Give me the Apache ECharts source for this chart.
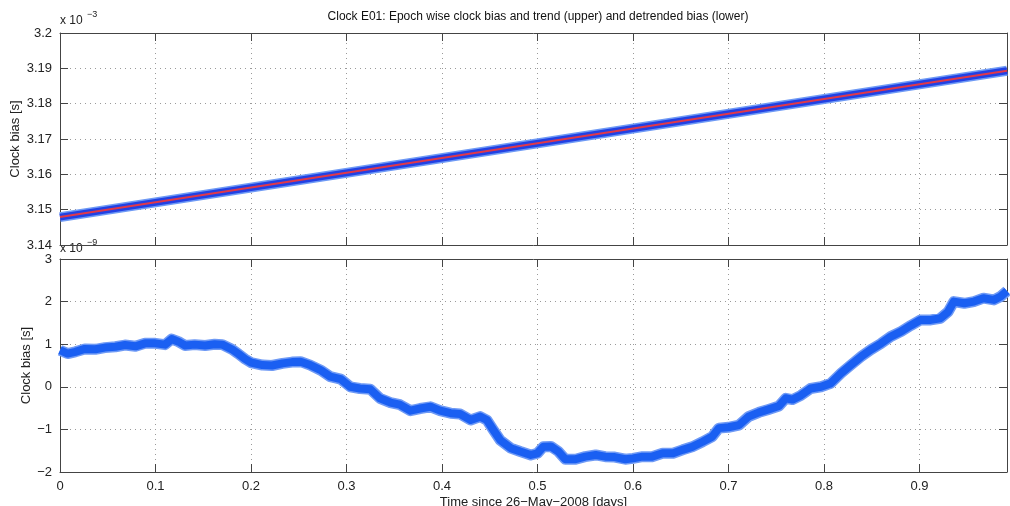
<!DOCTYPE html>
<html>
<head>
<meta charset="utf-8">
<script src="https://cdn.jsdelivr.net/npm/echarts@6/dist/echarts.min.js"></script>
<style>
html, body { margin: 0; padding: 0; background: #fff; }
#clock-chart { width: 1010px; height: 506px; }
</style>
</head>
<body>
<div id="clock-chart"></div>
<script>
// upper panel: trend end points (units of 1e-3 s)
var trendTime = [0, 0.9917];
var trendBias = [3.1479, 3.1893];

// lower panel: detrended bias (units of 1e-9 s)
var detTime = [0.000, 0.008, 0.016, 0.026, 0.037, 0.047, 0.058, 0.068, 0.079, 0.089,
  0.100, 0.110, 0.117, 0.124, 0.131, 0.141, 0.152, 0.162, 0.170, 0.180,
  0.187, 0.194, 0.200, 0.212, 0.222, 0.233, 0.243, 0.252, 0.262, 0.273,
  0.283, 0.294, 0.304, 0.314, 0.325, 0.335, 0.346, 0.356, 0.367, 0.377,
  0.388, 0.398, 0.409, 0.419, 0.430, 0.440, 0.447, 0.454, 0.461, 0.472,
  0.482, 0.493, 0.500, 0.506, 0.514, 0.522, 0.529, 0.540, 0.550, 0.561,
  0.571, 0.581, 0.592, 0.600, 0.610, 0.620, 0.631, 0.642, 0.652, 0.662,
  0.673, 0.683, 0.690, 0.700, 0.711, 0.721, 0.732, 0.742, 0.753, 0.760,
  0.767, 0.776, 0.786, 0.797, 0.807, 0.818, 0.828, 0.839, 0.849, 0.860,
  0.870, 0.881, 0.891, 0.901, 0.912, 0.922, 0.930, 0.936, 0.947, 0.957,
  0.967, 0.978, 0.985, 0.9917];
var detBias = [0.86, 0.78, 0.82, 0.89, 0.88, 0.92, 0.94, 0.98, 0.95, 1.02,
  1.02, 0.99, 1.12, 1.06, 0.97, 0.99, 0.97, 1.00, 0.99, 0.88,
  0.77, 0.65, 0.57, 0.51, 0.50, 0.55, 0.58, 0.59, 0.51, 0.39,
  0.24, 0.18, 0.00, -0.04, -0.06, -0.27, -0.37, -0.42, -0.56, -0.51,
  -0.47, -0.56, -0.62, -0.64, -0.78, -0.70, -0.78, -1.02, -1.25, -1.44,
  -1.52, -1.60, -1.56, -1.41, -1.40, -1.52, -1.70, -1.70, -1.64, -1.60,
  -1.64, -1.65, -1.70, -1.68, -1.64, -1.64, -1.56, -1.56, -1.48, -1.41,
  -1.29, -1.17, -0.97, -0.95, -0.90, -0.70, -0.60, -0.53, -0.45, -0.27,
  -0.30, -0.20, -0.04, 0.00, 0.08, 0.32, 0.51, 0.71, 0.87, 1.02,
  1.18, 1.30, 1.44, 1.57, 1.57, 1.61, 1.76, 2.00, 1.96, 2.00,
  2.08, 2.04, 2.12, 2.25];

var FONT = 'Liberation Sans';
var frameColor = '#444';

function pairs(xs, ys) {
  var out = [];
  for (var i = 0; i < xs.length; ++i) out.push([xs[i], ys[i]]);
  return out;
}

function xAx(grid, pos, labels) {
  return {
    type: 'value', gridIndex: grid, position: pos,
    min: 0, max: 0.9917, interval: 0.1,
    axisLine: { show: true, onZero: false, lineStyle: { color: frameColor, width: 1 } },
    axisTick: { show: true, inside: true, length: 8, lineStyle: { color: frameColor } },
    axisLabel: {
      show: labels, showMaxLabel: false, margin: 8, color: '#222',
      fontFamily: FONT, fontSize: 13
    },
    splitLine: {
      show: pos === 'bottom',
      lineStyle: { color: '#9a9a9a', type: [1, 4], width: 1 }
    }
  };
}

function yAx(grid, pos, mn, mx, step, labels) {
  return {
    type: 'value', gridIndex: grid, position: pos,
    min: mn, max: mx, interval: step,
    axisLine: { show: true, onZero: false, lineStyle: { color: frameColor, width: 1 } },
    axisTick: { show: true, inside: true, length: 8, lineStyle: { color: frameColor } },
    axisLabel: {
      show: labels, margin: 8, color: '#222', fontFamily: FONT, fontSize: 13,
      formatter: function (v) { return String(v).replace('-', '\u2212'); }
    },
    splitLine: {
      show: pos === 'left',
      lineStyle: { color: '#9a9a9a', type: [1, 4], width: 1 }
    }
  };
}

function setName(ax, text, gap) {
  ax.name = text;
  ax.nameLocation = 'middle';
  ax.nameGap = gap;
  ax.nameMoveOverlap = false;
  ax.nameTextStyle = { fontFamily: FONT, fontSize: 13, color: '#222' };
}

var chart = echarts.init(document.getElementById('clock-chart'));

var xAxes = [xAx(0, 'bottom', false), xAx(0, 'top', false), xAx(1, 'bottom', true), xAx(1, 'top', false)];
setName(xAxes[2], 'Time since 26\u2212May\u22122008 [days]', 24);

var yAxes = [yAx(0, 'left', 3.14, 3.2, 0.01, true), yAx(0, 'right', 3.14, 3.2, 0.01, false),
  yAx(1, 'left', -2, 3, 1, true), yAx(1, 'right', -2, 3, 1, false)];
setName(yAxes[0], 'Clock bias [s]', 38);
setName(yAxes[2], 'Clock bias [s]', 27);

var option = {
  backgroundColor: '#ffffff',
  animation: false,
  title: {
    text: 'Clock E01: Epoch wise clock bias and trend (upper) and detrended bias (lower)',
    left: 533, top: 6, textAlign: 'center',
    textStyle: { fontFamily: FONT, fontSize: 12, fontWeight: 'normal', color: '#111' }
  },
  grid: [
    { left: 60, right: 3, top: 33, height: 212, outerBoundsMode: 'none' },
    { left: 60, right: 3, top: 259, bottom: 34, outerBoundsMode: 'none' }
  ],
  xAxis: xAxes,
  yAxis: yAxes,
  graphic: [
    { type: 'text', left: 60, top: 15, style: { text: 'x 10', fontFamily: FONT, fontSize: 12, fill: '#222' } },
    { type: 'text', left: 87, top: 10, style: { text: '\u22123', fontFamily: FONT, fontSize: 9, fill: '#222' } },
    { type: 'text', left: 60, top: 243, style: { text: 'x 10', fontFamily: FONT, fontSize: 12, fill: '#222' } },
    { type: 'text', left: 87, top: 238, style: { text: '\u22129', fontFamily: FONT, fontSize: 9, fill: '#222' } }
  ],
  series: [
    {
      name: 'bias halo', type: 'line', xAxisIndex: 0, yAxisIndex: 0,
      data: pairs(trendTime, trendBias), showSymbol: false, silent: true,
      lineStyle: { color: '#6f9af5', width: 10 }
    },
    {
      name: 'bias', type: 'line', xAxisIndex: 0, yAxisIndex: 0,
      data: pairs(trendTime, trendBias), showSymbol: false, silent: true,
      lineStyle: { color: '#2141e4', width: 7 }
    },
    {
      name: 'trend', type: 'line', xAxisIndex: 0, yAxisIndex: 0,
      data: pairs(trendTime, trendBias), showSymbol: false, silent: true,
      lineStyle: { color: '#e0384a', width: 2 }
    },
    {
      name: 'detrended halo', type: 'line', xAxisIndex: 2, yAxisIndex: 2,
      data: pairs(detTime, detBias), showSymbol: false, silent: true,
      lineStyle: { color: '#6f9af5', width: 11, join: 'round' }
    },
    {
      name: 'detrended', type: 'line', xAxisIndex: 2, yAxisIndex: 2,
      data: pairs(detTime, detBias), showSymbol: false, silent: true,
      lineStyle: { color: '#1a5ff2', width: 8, join: 'round' }
    }
  ]
};
chart.setOption(option);
</script>
</body>
</html>
